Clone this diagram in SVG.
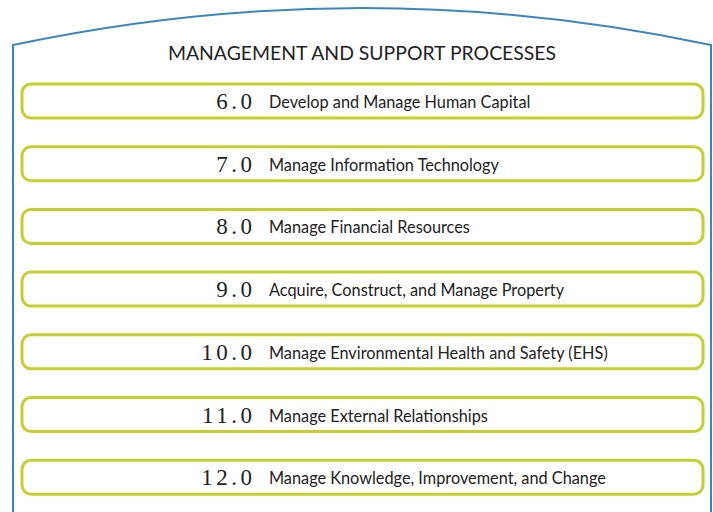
<svg xmlns="http://www.w3.org/2000/svg" width="713" height="512" viewBox="0 0 713 512">
<style>
.box{fill:#fff;stroke:#c2d12e;stroke-width:3}
.num{font-family:"Liberation Serif",serif;font-size:23px;fill:#222;text-anchor:end;letter-spacing:3.5px}
.lbl{font-family:Lato,"Liberation Sans",sans-serif;font-size:16.3px;fill:#222}
.title{font-family:Lato,"Liberation Sans",sans-serif;font-size:19.4px;fill:#222;text-anchor:middle}
</style>
<rect width="713" height="512" fill="#fff"/>
<g id="frame">
<path d="M13,512 L13,45 Q362,-29 711,45 L711,512" fill="none" stroke="#3a87bf" stroke-width="2"/>
<text class="title" x="362" y="60">MANAGEMENT AND SUPPORT PROCESSES</text>
</g>
<g id="connectors"></g>
<g id="n6"><rect class="box" x="22" y="84" width="681" height="34" rx="9"/><text class="num" x="255.5" y="109">6.0</text><text class="lbl" x="269" y="108">Develop and Manage Human Capital</text></g>
<g id="n7"><rect class="box" x="22" y="146.7" width="681" height="34" rx="9"/><text class="num" x="255.5" y="171.7">7.0</text><text class="lbl" x="269" y="170.7">Manage Information Technology</text></g>
<g id="n8"><rect class="box" x="22" y="209.4" width="681" height="34" rx="9"/><text class="num" x="255.5" y="234.4">8.0</text><text class="lbl" x="269" y="233.4">Manage Financial Resources</text></g>
<g id="n9"><rect class="box" x="22" y="272.1" width="681" height="34" rx="9"/><text class="num" x="255.5" y="297.1">9.0</text><text class="lbl" x="269" y="296.1">Acquire, Construct, and Manage Property</text></g>
<g id="n10"><rect class="box" x="22" y="334.8" width="681" height="34" rx="9"/><text class="num" x="255.5" y="359.8">10.0</text><text class="lbl" x="269" y="358.8">Manage Environmental Health and Safety (EHS)</text></g>
<g id="n11"><rect class="box" x="22" y="397.5" width="681" height="34" rx="9"/><text class="num" x="255.5" y="422.5">11.0</text><text class="lbl" x="269" y="421.5">Manage External Relationships</text></g>
<g id="n12"><rect class="box" x="22" y="460.2" width="681" height="34" rx="9"/><text class="num" x="255.5" y="485.2">12.0</text><text class="lbl" x="269" y="484.2">Manage Knowledge, Improvement, and Change</text></g>
</svg>
